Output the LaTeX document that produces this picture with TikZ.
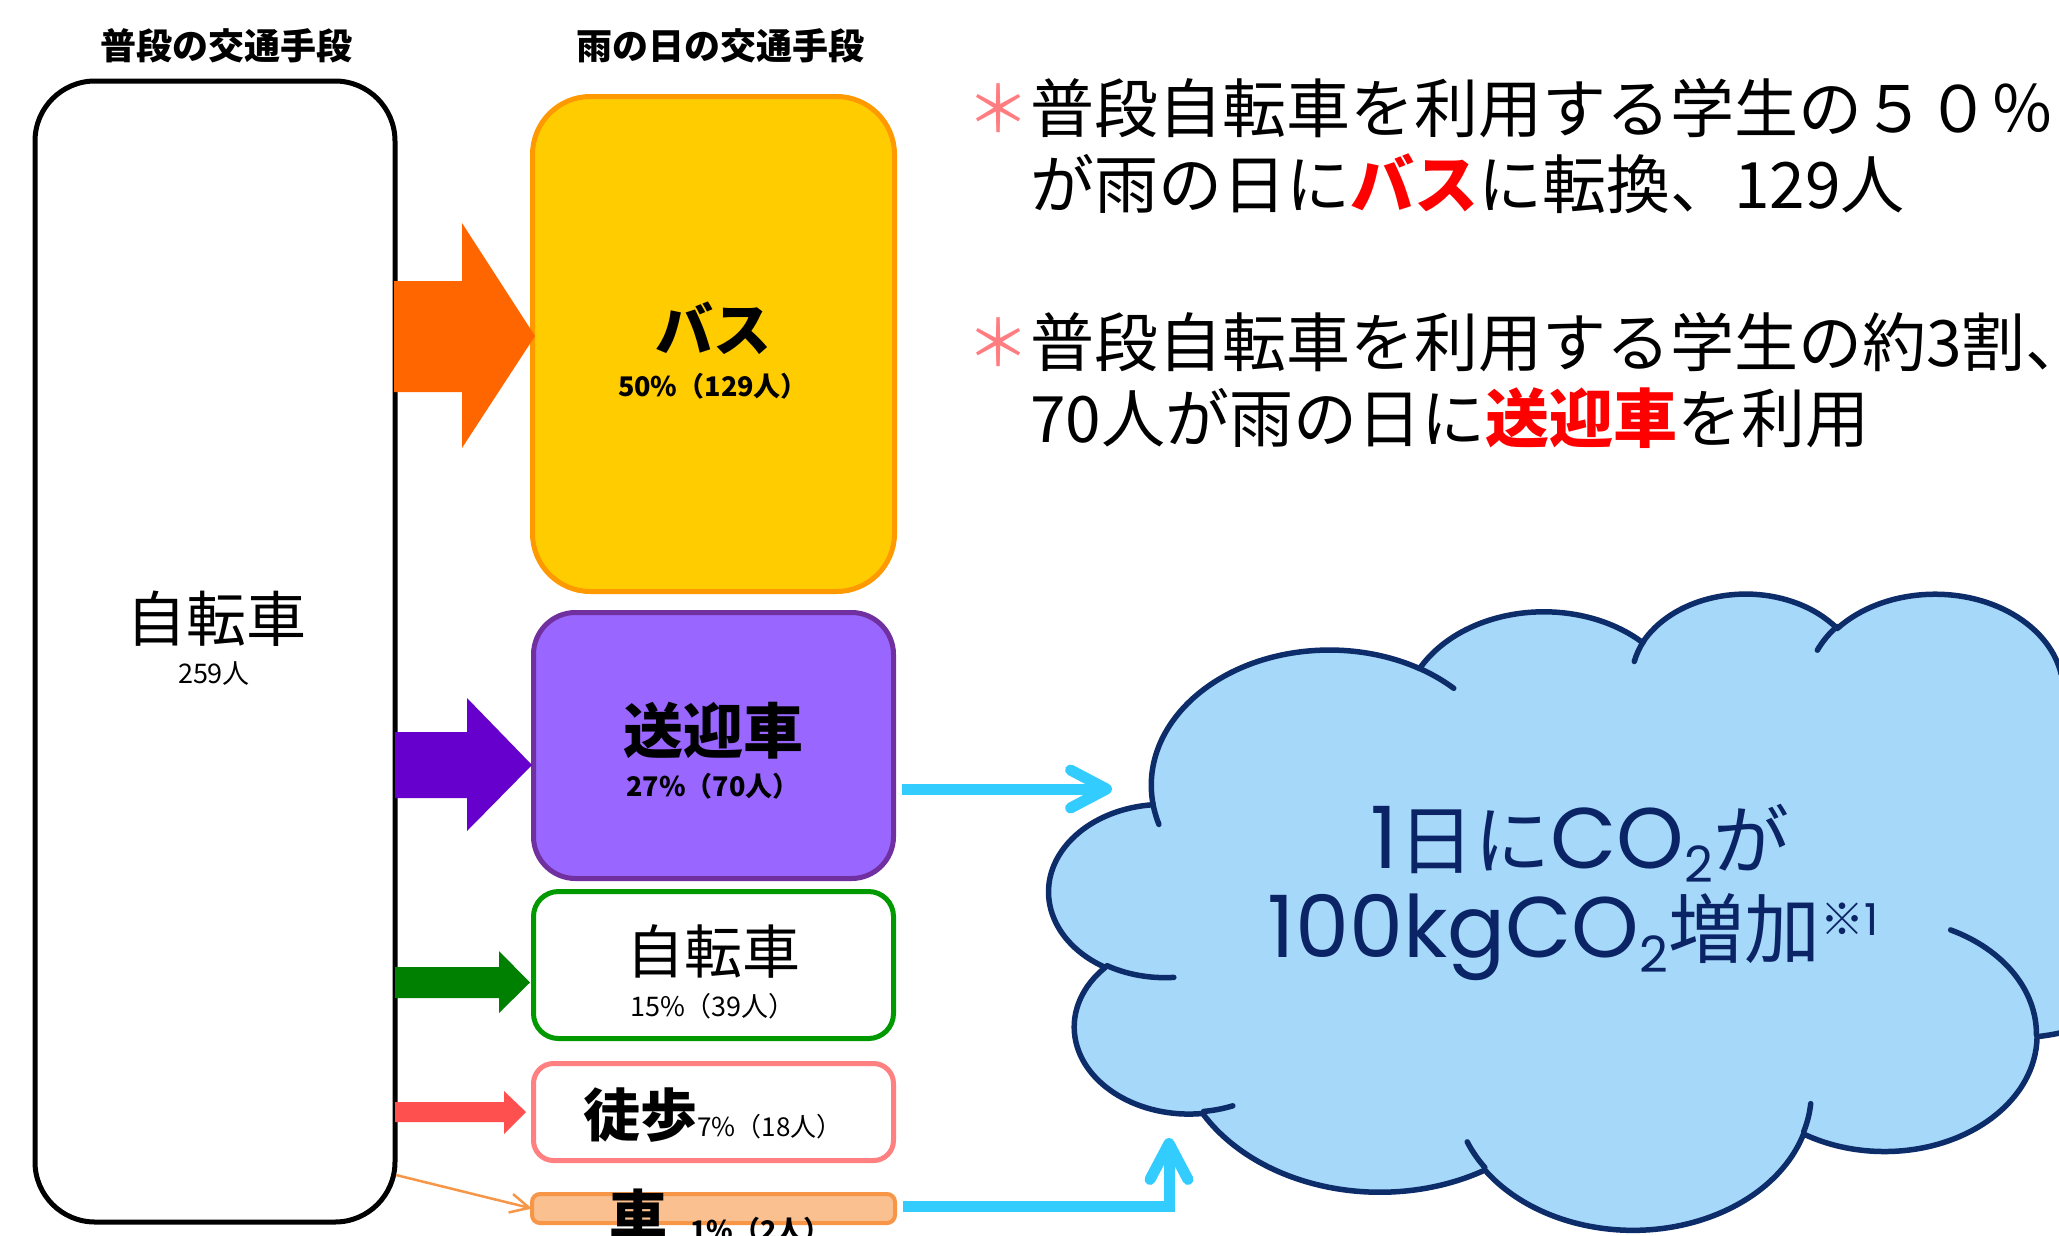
\documentclass[tikz,border=0pt]{standalone}
\usepackage{fontspec}
\setmainfont{Noto Sans CJK JP}
\newfontfamily\latwide{Poppins}
\usetikzlibrary{arrows.meta}

\definecolor{busfill}{HTML}{FFCC00}
\definecolor{busline}{HTML}{FF9900}
\definecolor{pufill}{HTML}{9966FF}
\definecolor{puline}{HTML}{7030A0}
\definecolor{grline}{HTML}{009900}
\definecolor{pkline}{HTML}{FF8080}
\definecolor{carfill}{HTML}{FAC090}
\definecolor{carline}{HTML}{F79646}
\definecolor{arOrange}{HTML}{FF6600}
\definecolor{arPurple}{HTML}{6600CC}
\definecolor{arGreen}{HTML}{008000}
\definecolor{arRed}{HTML}{FF5050}
\definecolor{cyanline}{HTML}{33CCFF}
\definecolor{astpink}{HTML}{FF7C80}
\definecolor{cloudfill}{HTML}{A6D8FA}
\definecolor{cloudline}{HTML}{0D2C6A}
\definecolor{navytext}{HTML}{0A2466}

\newcommand\setfs[1]{\fontsize{#1}{#1}\selectfont}
\def\cloudsx{2.6389}
\def\cloudsy{1.4722}
\def\cloudx{1050}
\def\cloudy{592}

\tikzset{
  lbl/.style={inner sep=0pt, outer sep=0pt},
  modebox/.style={rectangle, inner sep=0pt, outer sep=0pt},
  cyanarrow/.style={draw=cyanline, line width=11pt, -{Straight Barb[length=36pt,width=38pt,round]}},
  cloudshape/.style={fill=cloudfill, draw=cloudline, line width=5.5pt, line join=round},
  cloudedge/.style={draw=cloudline, line width=5.5pt, line cap=round},
  cloudarc/.code n args={4}{%
    \pgfmathsetmacro\caA{atan2((#1)*sin(#3),(#2)*cos(#3))}%
    \pgfmathsetmacro\caB{atan2((#1)*sin((#3)+(#4)),(#2)*cos((#3)+(#4)))}%
    \pgfmathsetmacro\caB{\caB+360*((\caB)<(\caA))}%
    \pgfmathsetmacro\caS{0-(\caA)}%
    \pgfmathsetmacro\caE{0-(\caB)}%
    \pgfmathsetmacro\caX{(#1)*\cloudsx}%
    \pgfmathsetmacro\caY{(#2)*\cloudsy}%
    \edef\caNext{\noexpand\pgfkeysalso{insert path={arc[start angle=\caS,end angle=\caE,x radius=\caX pt,y radius=\caY pt]}}}%
    \caNext
  },
}

\begin{document}
\begin{tikzpicture}[x=1pt,y=-1pt]
\fill[white] (0,0) rectangle (2059,1235);
\useasboundingbox (0,0) rectangle (2059,1235);

% titles
\node[lbl] (t1) at (226,46) {\setfs{36}\bfseries 普段の交通手段};
\node[lbl] (t2) at (720,46) {\setfs{36}\bfseries 雨の日の交通手段};

% boxes
\node[modebox, draw=black, fill=white, line width=5pt, rounded corners=60pt,
      minimum width=360pt, minimum height=1141pt] (usual) at (215,651.5) {};
\node[modebox, draw=busline, fill=busfill, line width=5pt, rounded corners=58pt,
      minimum width=362pt, minimum height=495pt] (bus) at (713.5,344) {};
\node[modebox, draw=puline, fill=pufill, line width=5pt, rounded corners=42pt,
      minimum width=360pt, minimum height=266pt] (pu) at (713.5,745.5) {};
\node[modebox, draw=grline, fill=white, line width=5pt, rounded corners=25pt,
      minimum width=360pt, minimum height=147pt] (bike) at (713.5,965) {};
\node[modebox, draw=pkline, fill=white, line width=5pt, rounded corners=20pt,
      minimum width=360pt, minimum height=97pt] (walk) at (713.5,1112) {};
\node[modebox, draw=carline, fill=carfill, line width=4pt, rounded corners=8pt,
      minimum width=363pt, minimum height=29pt] (car) at (713.5,1208.5) {};

% box texts
\node[lbl] (usualA) at (216,619) {\setfs{60}自転車};
\node[lbl] (usualB) at (214,674) {\setfs{27}259人};
\node[lbl] (busA) at (713,328) {\setfs{58}\bfseries バス};
\node[lbl] (busB) at (713,386) {\setfs{27}\bfseries 50\%（129人）};
\node[lbl] (puA) at (713,731) {\setfs{60}\bfseries 送迎車};
\node[lbl] (puB) at (713,786) {\setfs{27}\bfseries 27\%（70人）};
\node[lbl] (bikeA) at (713,951) {\setfs{58}自転車};
\node[lbl] (bikeB) at (713,1006) {\setfs{27}15\%（39人）};
\node[lbl, anchor=base] (walkA) at (713,1136) {{\setfs{57}\bfseries 徒歩}{\setfs{26}7\%（18人）}};
\node[lbl, anchor=base] (carA) at (638,1238) {\setfs{58}\bfseries 車};
\node[lbl, anchor=base west] (carB) at (690,1240) {\setfs{27}\bfseries 1\%（2人）};

% block arrows
\fill[arOrange] (394,281) -- (462,281) -- (462,223) -- (535,336) -- (462,448) -- (462,392) -- (394,392) -- cycle;
\fill[arPurple] (395,732) -- (467,732) -- (467,698) -- (532,765) -- (467,831) -- (467,798) -- (395,798) -- cycle;
\fill[arGreen] (395,967) -- (499,967) -- (499,951) -- (530,982.5) -- (499,1013) -- (499,998) -- (395,998) -- cycle;
\fill[arRed] (395,1102) -- (504,1102) -- (504,1091) -- (526,1112) -- (504,1134) -- (504,1122) -- (395,1122) -- cycle;

% thin orange arrow
\coordinate (o1) at (396,1175);
\draw[carline, line width=2.5pt, -{Straight Barb[length=19pt,width=19pt]}] (o1) -- (car.west);

% right texts
\node[lbl, anchor=base west] (r1) at (966,132) {\setfs{64}{\color{astpink}＊}普段自転車を利用する学生の５０％};
\node[lbl, anchor=base west] (r2) at (1030,208) {\setfs{64}が雨の日に{\color{red}\bfseries バス}に転換、129人};
\node[lbl, anchor=base west] (r3) at (966,366) {\setfs{64}{\color{astpink}＊}普段自転車を利用する学生の約3割、};
\node[lbl, anchor=base west] (r4) at (1030,442) {\setfs{64}70人が雨の日に{\color{red}\bfseries 送迎車}を利用};

% cloud
\path[cloudshape] ({\cloudx+39.00*\cloudsx},{\cloudy+143.70*\cloudsy})
  [cloudarc={67.53}{91.90}{-190.48748}{123.78053}]
  [cloudarc={53.33}{72.67}{-144.10238}{89.94523}]
  [cloudarc={43.65}{59.45}{-145.80792}{99.72302}]
  [cloudarc={48.57}{65.95}{-130.98607}{117.24173}]
  [cloudarc={53.33}{72.73}{-78.70888}{109.02692}]
  [cloudarc={67.75}{92.20}{-46.26725}{130.269}]
  [cloudarc={57.85}{78.67}{0.62502}{114.03333}]
  [cloudarc={67.52}{92.15}{22.4516}{115.17255}]
  [cloudarc={77.20}{105.43}{66.24263}{76.05442}]
  [cloudarc={43.60}{59.18}{-274.94208}{146.73557}]
  [cloudarc={43.45}{59.45}{-246.8285}{152.51885}]
  -- cycle;
\path[cloudedge]
  ({\cloudx+46.93*\cloudsx},{\cloudy+261.77*\cloudsy}) [cloudarc={43.45}{59.45}{86.742}{26.4295}]
  ({\cloudx+69.28*\cloudsx},{\cloudy+348.99*\cloudsy}) [cloudarc={43.60}{59.18}{73.61047}{11.44747}]
  ({\cloudx+164.78*\cloudsx},{\cloudy+390.90*\cloudsy}) [cloudarc={67.52}{92.15}{137.62415}{14.0811}]
  ({\cloudx+288.27*\cloudsx},{\cloudy+347.51*\cloudsy}) [cloudarc={67.52}{92.15}{6.45327}{15.99835}]
  ({\cloudx+341.29*\cloudsx},{\cloudy+229.54*\cloudsy}) [cloudarc={57.85}{78.67}{-70.29235}{70.91737}]
  ({\cloudx+417.98*\cloudsx},{\cloudy+153.54*\cloudsy}) [cloudarc={53.33}{72.73}{30.31803}{27.7515}]
  ({\cloudx+383.24*\cloudsx},{\cloudy+54.26*\cloudsy}) [cloudarc={48.57}{65.95}{-13.74433}{14.85715}]
  ({\cloudx+290.78*\cloudsx},{\cloudy+39.52*\cloudsy}) [cloudarc={48.57}{65.95}{-149.18145}{18.19537}]
  ({\cloudx+221.41*\cloudsx},{\cloudy+47.20*\cloudsy}) [cloudarc={43.65}{59.45}{-163.49427}{17.68635}]
  ({\cloudx+140.00*\cloudsx},{\cloudy+51.92*\cloudsy}) [cloudarc={67.53}{91.90}{-66.70695}{12.31935}]
  ({\cloudx+41.27*\cloudsx},{\cloudy+157.89*\cloudsy}) [cloudarc={67.53}{91.90}{157.65435}{11.85817}];

% cloud text
\node[lbl, anchor=base, text=navytext] (cl1) at (1580,868)
  {\setfs{76}{\latwide\setfs{86}1}日に{\latwide\setfs{86}CO\raisebox{-14pt}{\setfs{50}2}}が};
\node[lbl, anchor=base, text=navytext] (cl2) at (1573,957)
  {\setfs{76}{\latwide\setfs{86}100kgCO\raisebox{-15pt}{\setfs{50}2}}増加\raisebox{22pt}{\setfs{44}※{\latwide 1}}};

% cyan arrows
\coordinate (c1a) at (902,789);
\coordinate (c1b) at (1112,789);
\draw[cyanarrow] (c1a) -- (c1b);
\coordinate (c2a) at (903,1206);
\coordinate (c2b) at (1169,1138);
\draw[cyanarrow] (c2a) -| (c2b);
\end{tikzpicture}
\end{document}
